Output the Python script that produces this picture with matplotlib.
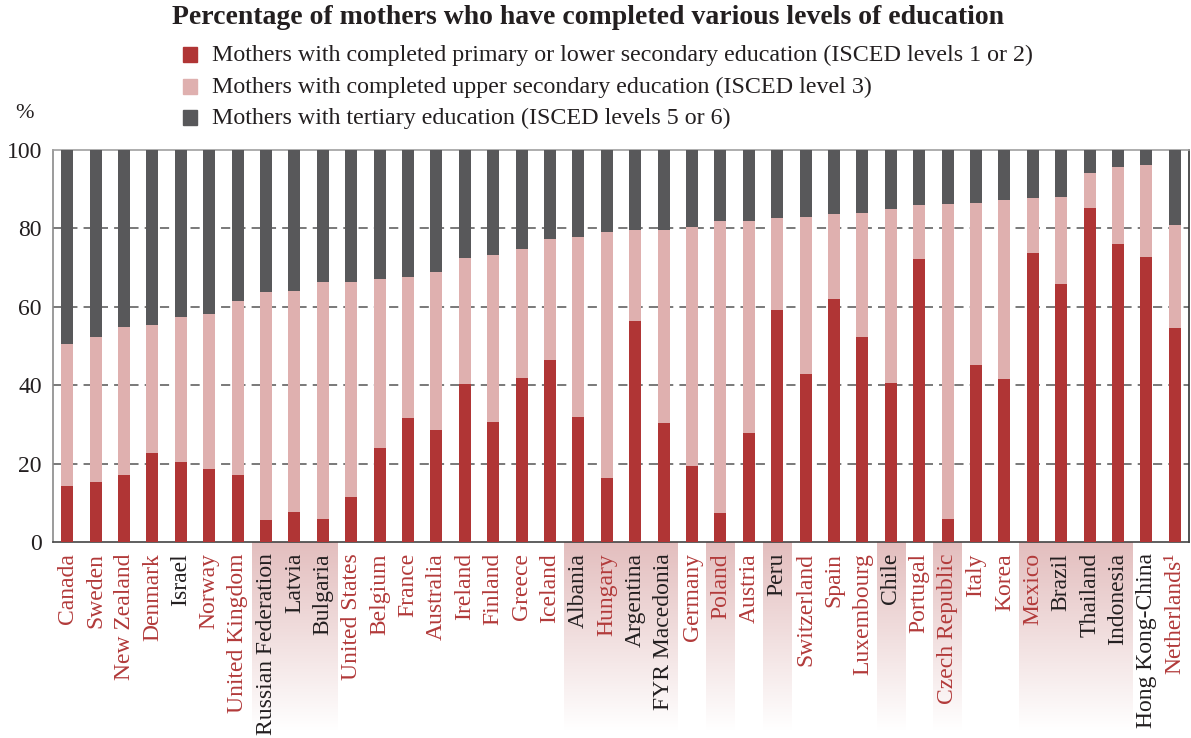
import matplotlib
matplotlib.use("Agg")
import matplotlib.pyplot as plt
import numpy as np
from matplotlib.patches import Rectangle
from matplotlib.colors import LinearSegmentedColormap

countries = ["Canada", "Sweden", "New Zealand", "Denmark", "Israel", "Norway",
             "United Kingdom", "Russian Federation", "Latvia", "Bulgaria",
             "United States", "Belgium", "France", "Australia", "Ireland",
             "Finland", "Greece", "Iceland", "Albania", "Hungary", "Argentina",
             "FYR Macedonia", "Germany", "Poland", "Austria", "Peru",
             "Switzerland", "Spain", "Luxembourg", "Chile", "Portugal",
             "Czech Republic", "Italy", "Korea", "Mexico", "Brazil", "Thailand",
             "Indonesia", "Hong Kong-China", "Netherlands\u00b9"]

primary = [14.4, 15.4, 17.0, 22.6, 20.5, 18.5, 17.0, 5.7, 7.7, 5.9,
           11.6, 23.9, 31.6, 28.5, 40.3, 30.6, 41.9, 46.5, 31.8, 16.4,
           56.3, 30.3, 19.5, 7.4, 27.7, 59.1, 42.9, 62.0, 52.2, 40.6,
           72.3, 5.8, 45.2, 41.6, 73.6, 65.8, 85.2, 75.9, 72.8, 54.5]
# cumulative top of the upper-secondary segment
upper_top = [50.4, 52.4, 54.8, 55.3, 57.3, 58.1, 61.5, 63.8, 64.0, 66.4,
             66.4, 67.1, 67.6, 68.9, 72.5, 73.3, 74.8, 77.4, 77.9, 79.0,
             79.5, 79.7, 80.3, 81.8, 81.8, 82.6, 82.8, 83.6, 83.9, 84.9,
             85.9, 86.2, 86.4, 87.2, 87.7, 88.0, 94.2, 95.7, 96.2, 80.8]
upper_secondary = [round(t - p, 1) for t, p in zip(upper_top, primary)]
tertiary = [round(100 - t, 1) for t in upper_top]

non_oecd = {"Israel", "Russian Federation", "Latvia", "Bulgaria", "Albania",
            "Argentina", "FYR Macedonia", "Peru", "Chile", "Brazil",
            "Thailand", "Indonesia", "Hong Kong-China"}
shaded_groups = [("Russian Federation", "Bulgaria"), ("Albania", "FYR Macedonia"),
                 ("Poland", "Poland"), ("Peru", "Peru"), ("Chile", "Chile"),
                 ("Czech Republic", "Czech Republic"), ("Mexico", "Indonesia")]

legend_labels = ["Mothers with completed primary or lower secondary education (ISCED levels 1 or 2)",
                 "Mothers with completed upper secondary education (ISCED level 3)",
                 "Mothers with tertiary education (ISCED levels 5 or 6)"]
title = "Percentage of mothers who have completed various levels of education"

RED = "#b03535"
PINK = "#dfb0af"
DARK = "#58585a"
LABEL_RED = "#b23a3a"
LABEL_BLACK = "#231f20"

plt.rcParams['font.family'] = ['Liberation Serif', 'DejaVu Serif']

fig = plt.figure(figsize=(11.91, 7.38), dpi=100)
ax = fig.add_axes([53/1191, 1 - 542/738, (1189 - 53)/1191, 392/738])

x = np.arange(len(countries))
w = 0.42
ax.bar(x, primary, w, color=RED, zorder=3)
ax.bar(x, upper_secondary, w, bottom=primary, color=PINK, zorder=3)
ax.bar(x, tertiary, w, bottom=upper_top, color=DARK, zorder=3)

ax.set_yticks([0, 20, 40, 60, 80, 100])
ax.tick_params(axis='y', length=0, labelsize=17, pad=8, colors="#231f20")
for yv in [20, 40, 60, 80]:
    ax.axhline(yv, color="#555555", lw=1.1, ls=(0, (6, 4)), zorder=1)

ax.set_xticks(x)
ax.set_xticklabels(countries, rotation=90, fontsize=17, va='top', ha='center')
ax.tick_params(axis='x', length=0, pad=8)
for lbl, c in zip(ax.get_xticklabels(), countries):
    lbl.set_color(LABEL_BLACK if c in non_oecd else LABEL_RED)

for side, col in [("left", "#8a8a8a"), ("top", "#a0a0a0"), ("right", "#333333"), ("bottom", "#444444")]:
    ax.spines[side].set_color(col)
    ax.spines[side].set_linewidth(1.2)

# gradient shading behind labels
grad = np.linspace(0, 1, 256).reshape(-1, 1)
cmap = LinearSegmentedColormap.from_list("g", ["#e3bebe", "#ffffff"])
bottom_ax = -(730 - 542) / 392
for a, b in shaded_groups:
    i0 = countries.index(a) - 0.5
    i1 = countries.index(b) + 0.5
    ax.imshow(grad, cmap=cmap, aspect='auto', extent=(i0, i1, bottom_ax, 0),
              transform=ax.get_xaxis_transform(), clip_on=False, zorder=0,
              origin='upper')
ax.set_xlim(-0.5, len(countries) - 0.5)
ax.set_ylim(0, 100)

# title & legend
fig.text(0.5 - 8/1191, 1 - 18/738, title, ha='center', va='center', fontsize=20,
         fontweight='bold', color="#231f20")
leg_y = [55, 87, 118]
for ly, lab, col in zip(leg_y, legend_labels, [RED, PINK, DARK]):
    fig.patches.append(Rectangle((183/1191, 1 - (ly + 7)/738), 14/1191, 15/738,
                                 transform=fig.transFigure, color=col))
    fig.text(212/1191, 1 - ly/738, lab, ha='left', va='center', fontsize=17.3,
             color="#231f20")
fig.text(25/1191, 1 - 113/738, "%", ha='center', va='center', fontsize=16,
         color="#231f20")

fig.savefig("out.png", dpi=100)
